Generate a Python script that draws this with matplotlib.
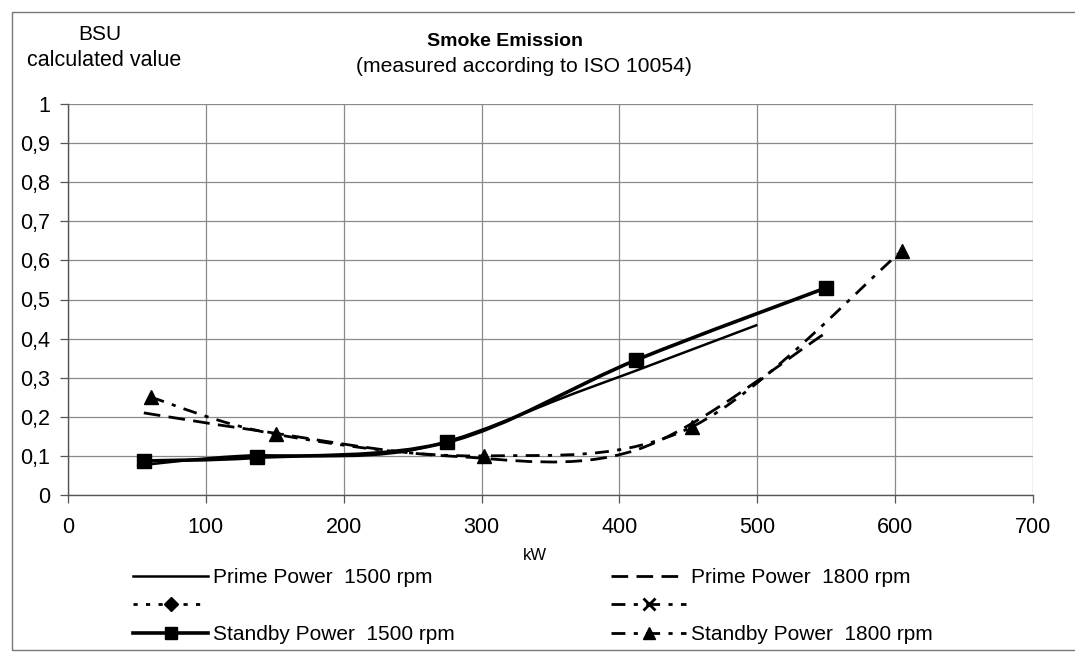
import numpy as np
import matplotlib
matplotlib.use("Agg")
import matplotlib.pyplot as plt
from matplotlib.path import Path
from matplotlib.patches import PathPatch, Rectangle
from matplotlib.lines import Line2D

plt.rcParams['font.family'] = ['Liberation Sans', 'DejaVu Sans']

# ---- data (kW, BSU) ----
prime_1500_kw = [50, 125, 250, 375, 500]
prime_1500_bsu = [0.075, 0.10, 0.115, 0.27, 0.435]

standby_1500_kw = [55, 137, 275, 412, 550]
standby_1500_bsu = [0.087, 0.096, 0.135, 0.345, 0.53]

prime_1800_kw = [55, 137, 275, 412, 550]
prime_1800_bsu = [0.21, 0.165, 0.10, 0.115, 0.415]

standby_1800_kw = [60, 151, 302, 453, 605]
standby_1800_bsu = [0.25, 0.155, 0.10, 0.175, 0.625]

x_ticks = [0, 100, 200, 300, 400, 500, 600, 700]
y_ticks = [0, 0.1, 0.2, 0.3, 0.4, 0.5, 0.6, 0.7, 0.8, 0.9, 1.0]
y_tick_labels = ["0", "0,1", "0,2", "0,3", "0,4", "0,5", "0,6", "0,7", "0,8", "0,9", "1"]

labels = ["Prime Power  1500 rpm", " ", "Standby Power  1500 rpm",
          "Prime Power  1800 rpm", " ", "Standby Power  1800 rpm"]


def smooth_path(xs, ys):
    """Excel-like smoothed line: Catmull-Rom as cubic Bezier segments."""
    p = np.column_stack([xs, ys]).astype(float)
    verts = [p[0]]
    codes = [Path.MOVETO]
    n = len(p)
    for i in range(n - 1):
        p0 = p[i - 1] if i > 0 else p[i]
        p1 = p[i]
        p2 = p[i + 1]
        p3 = p[i + 2] if i + 2 < n else p[i + 1]
        c1 = p1 + (p2 - p0) / 6.0
        c2 = p2 - (p3 - p1) / 6.0
        verts += [c1, c2, p2]
        codes += [Path.CURVE4] * 3
    return Path(verts, codes)


fig = plt.figure(figsize=(10.75, 6.57), dpi=100)
ax = fig.add_axes([68 / 1075, 1 - 495 / 657, (1033 - 68) / 1075, (495 - 104) / 657])

ax.set_xlim(0, 700)
ax.set_ylim(0, 1)
ax.set_xticks(x_ticks)
ax.set_xticklabels([str(t) for t in x_ticks], fontsize=15.5)
ax.set_yticks(y_ticks)
ax.set_yticklabels(y_tick_labels, fontsize=15.5)
ax.grid(True, color='#8a8a8a', linewidth=0.9)
ax.set_axisbelow(True)
for s in ['top', 'right']:
    ax.spines[s].set_visible(False)
for s in ['left', 'bottom']:
    ax.spines[s].set_color('#555555')
    ax.spines[s].set_linewidth(1.0)
ax.tick_params(axis='both', direction='out', length=6, width=0.9, color='#555555')
ax.tick_params(axis='y', pad=7)
ax.tick_params(axis='x', pad=10)

# series styles
styles = [
    dict(color='black', lw=1.8, ls='-'),
    dict(color='black', lw=2.6, ls='-'),
    dict(color='black', lw=2.0, ls=(0, (6, 3))),
    dict(color='black', lw=2.0, ls=(0, (5, 3, 1.5, 3))),
]
series = [
    (prime_1500_kw, prime_1500_bsu, None),
    (standby_1500_kw, standby_1500_bsu, 's'),
    (prime_1800_kw, prime_1800_bsu, None),
    (standby_1800_kw, standby_1800_bsu, '^'),
]
for (xs, ys, mk), st in zip(series, styles):
    patch = PathPatch(smooth_path(xs, ys), facecolor='none', edgecolor=st['color'],
                      linewidth=st['lw'], linestyle=st['ls'], capstyle='butt')
    ax.add_patch(patch)
    if mk:
        ax.plot(xs, ys, linestyle='none', marker=mk, markersize=10,
                color='black', zorder=5)

# legend handles
h_p15 = Line2D([], [], color='black', lw=1.8, ls='-')
h_dia = Line2D([], [], color='black', lw=2.0, ls=(0, (1.5, 3)), marker='D', markersize=7)
h_s15 = Line2D([], [], color='black', lw=2.6, ls='-', marker='s', markersize=9)
h_p18 = Line2D([], [], color='black', lw=2.0, ls=(0, (6, 3)))
h_x = Line2D([], [], color='black', lw=2.0, ls=(0, (5, 3, 1.5, 3)), marker='x', markersize=9, mew=2)
h_s18 = Line2D([], [], color='black', lw=2.0, ls=(0, (5, 3, 1.5, 3)), marker='^', markersize=9)

fig.legend([h_p15, h_dia, h_s15, h_p18, h_x, h_s18], labels,
           loc='upper left', bbox_to_anchor=(133 / 1075, 1 - 568 / 657),
           ncol=2, frameon=False, fontsize=15, handlelength=3.6,
           handletextpad=0.25, columnspacing=7.5, labelspacing=0.46,
           borderpad=0, borderaxespad=0)

# titles and labels
fig.text(505 / 1075, 1 - 42 / 657, "Smoke Emission", ha='center', va='center',
         fontsize=14, fontweight='bold')
fig.text(524 / 1075, 1 - 67 / 657, "(measured according to ISO 10054)",
         ha='center', va='center', fontsize=15.2)
fig.text(100 / 1075, 1 - 35 / 657, "BSU", ha='center', va='center', fontsize=15)
fig.text(104 / 1075, 1 - 60 / 657, "calculated value", ha='center', va='center', fontsize=15.5)
fig.text(535 / 1075, 1 - 555 / 657, "kW", ha='center', va='center', fontsize=12)

# outer chart border
fig.patches.append(Rectangle((12 / 1075, 7 / 657), 1.2, 1 - 19 / 657,
                             transform=fig.transFigure, fill=False,
                             edgecolor='#777777', linewidth=1.0))

fig.savefig("out.png", dpi=100)
